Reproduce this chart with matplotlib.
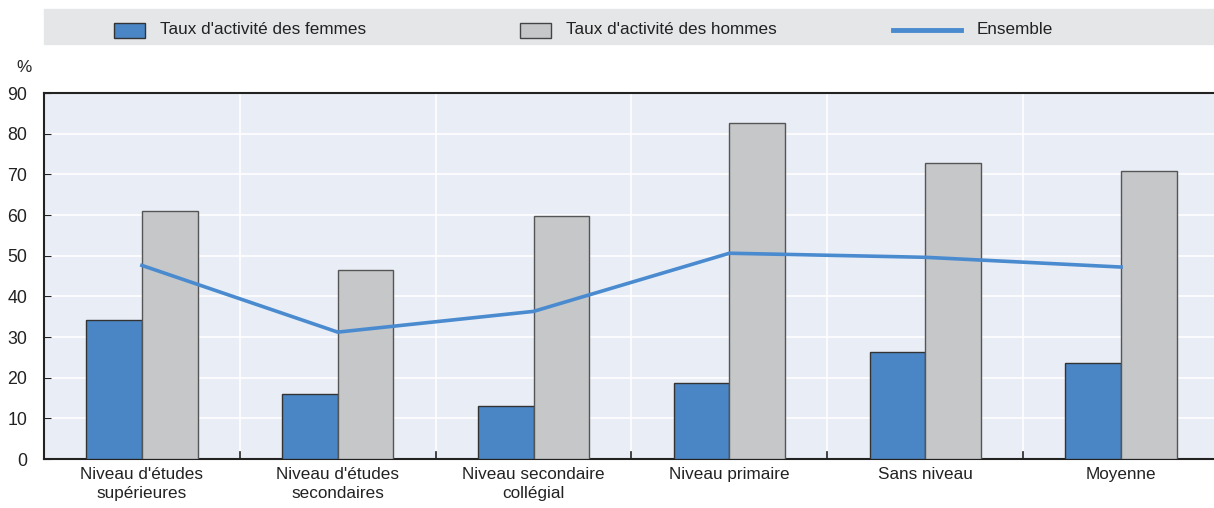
import matplotlib.pyplot as plt
import matplotlib.patches as mpatches
import matplotlib.lines as mlines
import numpy as np

plt.rcParams['font.family'] = ['Liberation Sans', 'DejaVu Sans']

categories = ["Niveau d'études\nsupérieures", "Niveau d'études\nsecondaires",
              "Niveau secondaire\ncollégial", "Niveau primaire", "Sans niveau", "Moyenne"]
femmes = [34.3, 16.0, 13.0, 18.7, 26.3, 23.6]
hommes = [61.0, 46.4, 59.7, 82.7, 72.9, 70.8]
ensemble = [47.6, 31.2, 36.3, 50.6, 49.6, 47.2]

blue = '#4a86c6'
grey = '#c6c7c9'
line_blue = '#4a8bd0'
txt = '#222222'
fs = 12.3

W, H = 1214, 508
fig = plt.figure(figsize=(W / 100, H / 100), dpi=100)
ax = fig.add_axes([44 / W, 1 - 459 / H, (1219 - 44) / W, (459 - 93) / H])
ax.set_facecolor('#e9edf6')

x = np.arange(len(categories))
w = 0.284
ax.bar(x - w / 2, femmes, w, color=blue, edgecolor='#333333', linewidth=1.0, zorder=3)
ax.bar(x + w / 2, hommes, w, color=grey, edgecolor='#555555', linewidth=1.0, zorder=3)
ax.plot(x, ensemble, color=line_blue, linewidth=2.6, zorder=4)

ax.set_xlim(-0.5, len(categories) - 0.5)
ax.set_ylim(0, 90)
ax.set_yticks(range(0, 91, 10))
ax.tick_params(axis='y', direction='in', length=5, labelsize=fs + 0.5, colors=txt, pad=12)
ax.set_xticks(x)
ax.set_xticklabels(categories, fontsize=fs, color=txt, linespacing=1.3)
ax.tick_params(axis='x', length=0, pad=6)

# separators between groups: white grid lines plus short dark ticks on the baseline
for b in np.arange(0.5, len(categories) - 0.5, 1):
    ax.axvline(b, color='white', linewidth=1.2, zorder=1)
    ax.plot([b, b], [0, 1.6], color=txt, linewidth=1.2, zorder=5, clip_on=False)
for yv in range(10, 90, 10):
    ax.axhline(yv, color='white', linewidth=1.2, zorder=1)

for s in ['left', 'bottom', 'top']:
    ax.spines[s].set_color(txt)
    ax.spines[s].set_linewidth(1.5)
ax.spines['right'].set_visible(False)

fig.text(24 / W, 1 - 68 / H, '%', fontsize=fs, ha='center', va='center', color=txt)

# legend band across the top
fig.patches.append(mpatches.Rectangle((44 / W, 1 - 44 / H), 1 - 44 / W, 35 / H,
                                      transform=fig.transFigure, color='#e5e6e8', zorder=0))
ly = 1 - 30 / H
fig.patches.append(mpatches.Rectangle((114 / W, ly - 7.5 / H), 31 / W, 15 / H,
                                      transform=fig.transFigure, facecolor=blue,
                                      edgecolor='#333333', linewidth=1.0))
fig.text(160 / W, ly, "Taux d'activité des femmes", fontsize=fs, va='center', color=txt)
fig.patches.append(mpatches.Rectangle((520 / W, ly - 7.5 / H), 31 / W, 15 / H,
                                      transform=fig.transFigure, facecolor=grey,
                                      edgecolor='#444444', linewidth=1.0))
fig.text(566 / W, ly, "Taux d'activité des hommes", fontsize=fs, va='center', color=txt)
fig.lines.append(mlines.Line2D([893 / W, 961 / W], [ly, ly], transform=fig.transFigure,
                               color=line_blue, linewidth=3.5))
fig.text(977 / W, ly, "Ensemble", fontsize=fs, va='center', color=txt)

fig.savefig('out.png', dpi=100)
